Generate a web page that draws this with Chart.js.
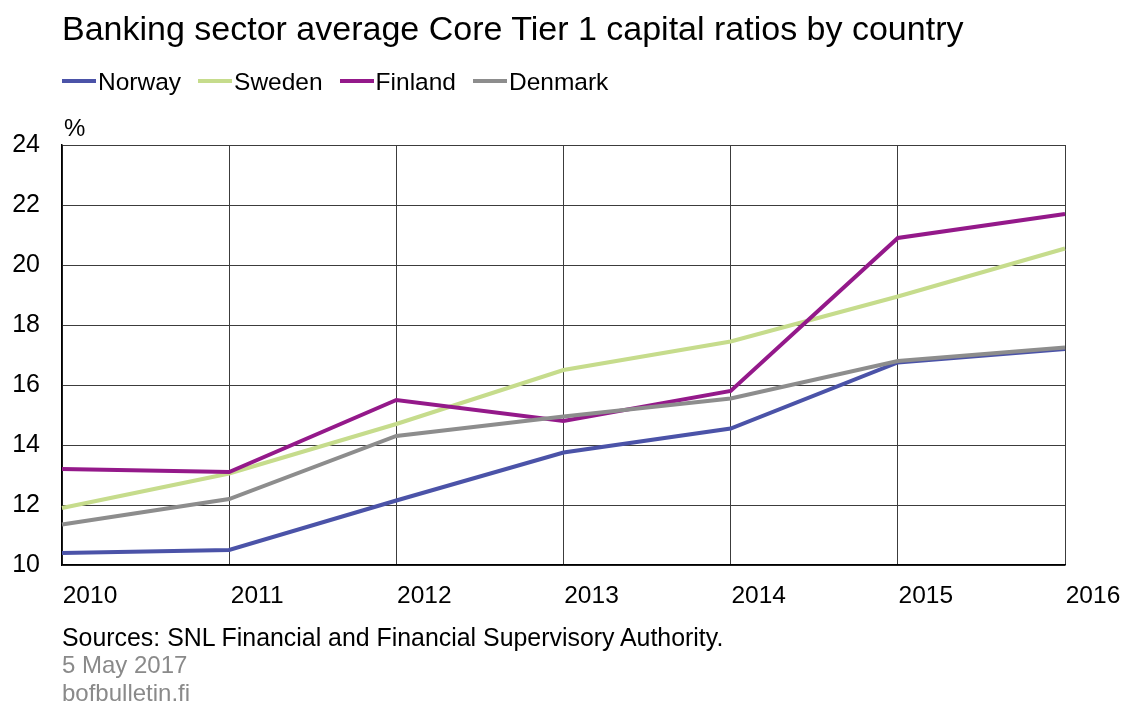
<!DOCTYPE html>
<html>
<head>
<meta charset="utf-8">
<script src="https://cdn.jsdelivr.net/npm/chart.js@4.4.1/dist/chart.umd.min.js"></script>
<style>
    body { margin: 0; background: #fff; font-family: "Liberation Sans", Arial, sans-serif; }
    #wrap { position: relative; width: 1131px; height: 706px; overflow: hidden; }
    #chart { position: absolute; left: 0; top: 0; }
    .txt { position: absolute; white-space: nowrap; line-height: 1; }
    #title { left: 62px; top: 11px; font-size: 34px; color: #000; }
    #legend { left: 62px; top: 70px; font-size: 24.5px; color: #000; display: flex; }
    .legend-item { display: flex; align-items: center; margin-right: 17px; }
    .legend-swatch { width: 34px; height: 4px; margin-right: 2px; margin-top: -2px; }
    #unit { left: 64px; top: 116px; font-size: 24px; }
    #source { left: 62px; top: 625px; font-size: 24.9px; color: #000; }
    #date { left: 62px; top: 653px; font-size: 24px; color: #8a8a8a; }
    #site { left: 62px; top: 681px; font-size: 24px; color: #8a8a8a; }
</style>
</head>
<body>
<div id="wrap">
    <canvas id="chart" width="1131" height="706"></canvas>
    <div class="txt" id="title">Banking sector average Core Tier 1 capital ratios by country</div>
    <div class="txt" id="legend"></div>
    <div class="txt" id="unit">%</div>
    <div class="txt" id="source">Sources: SNL Financial and Financial Supervisory Authority.</div>
    <div class="txt" id="date">5 May 2017</div>
    <div class="txt" id="site">bofbulletin.fi</div>
</div>
<script>
    // Data
    const years = ['2010', '2011', '2012', '2013', '2014', '2015', '2016'];
    const norway = [10.4, 10.5, 12.15, 13.75, 14.55, 16.75, 17.2];
    const sweden = [11.9, 13.05, 14.7, 16.5, 17.45, 18.95, 20.55];
    const finland = [13.2, 13.1, 15.5, 14.8, 15.8, 20.9, 21.7];
    const denmark = [11.35, 12.2, 14.3, 14.95, 15.55, 16.8, 17.25];
    const yTicks = [10, 12, 14, 16, 18, 20, 22, 24];

    const series = [
        { label: 'Norway', data: norway, color: '#4b53a8', order: 4 },
        { label: 'Sweden', data: sweden, color: '#c6dc8c', order: 3 },
        { label: 'Finland', data: finland, color: '#94198a', order: 2 },
        { label: 'Denmark', data: denmark, color: '#8d8d8d', order: 1 }
    ];

    const ctx = document.getElementById('chart').getContext('2d');
    const chart = new Chart(ctx, {
        type: 'line',
        data: {
            labels: years,
            datasets: series.map(s => ({
                label: s.label,
                data: s.data,
                borderColor: s.color,
                backgroundColor: s.color,
                borderWidth: 4,
                pointRadius: 0,
                tension: 0,
                order: s.order
            }))
        },
        options: {
            responsive: false,
            animation: false,
            layout: {
                padding: { left: 10, right: 66, top: 145, bottom: 96 }
            },
            plugins: {
                legend: { display: false },
                tooltip: { enabled: false }
            },
            scales: {
                x: {
                    type: 'category',
                    offset: false,
                    grid: { color: '#3c3c3c', lineWidth: 1, drawTicks: false },
                    border: { color: '#000', width: 1.5 },
                    ticks: {
                        color: '#000',
                        font: { family: 'Liberation Sans', size: 24.5 },
                        padding: 17,
                        labelOffset: 28,
                        autoSkip: false,
                        maxRotation: 0
                    },
                    afterFit: scale => { scale.height = 45; }
                },
                y: {
                    min: 10,
                    max: 24,
                    afterBuildTicks: scale => {
                        scale.ticks = yTicks.map(v => ({ value: v }));
                    },
                    grid: { color: '#3c3c3c', lineWidth: 1, drawTicks: false },
                    border: { color: '#000', width: 1.5 },
                    ticks: {
                        color: '#000',
                        font: { family: 'Liberation Sans', size: 25 },
                        padding: 22
                    },
                    afterFit: scale => { scale.width = 52; }
                }
            }
        }
    });

    // Legend built from the series list
    const legend = document.getElementById('legend');
    series.forEach(s => {
        const item = document.createElement('div');
        item.className = 'legend-item';
        item.innerHTML = `<span class="legend-swatch" style="background:${s.color}"></span><span>${s.label}</span>`;
        legend.appendChild(item);
    });
</script>
</body>
</html>
